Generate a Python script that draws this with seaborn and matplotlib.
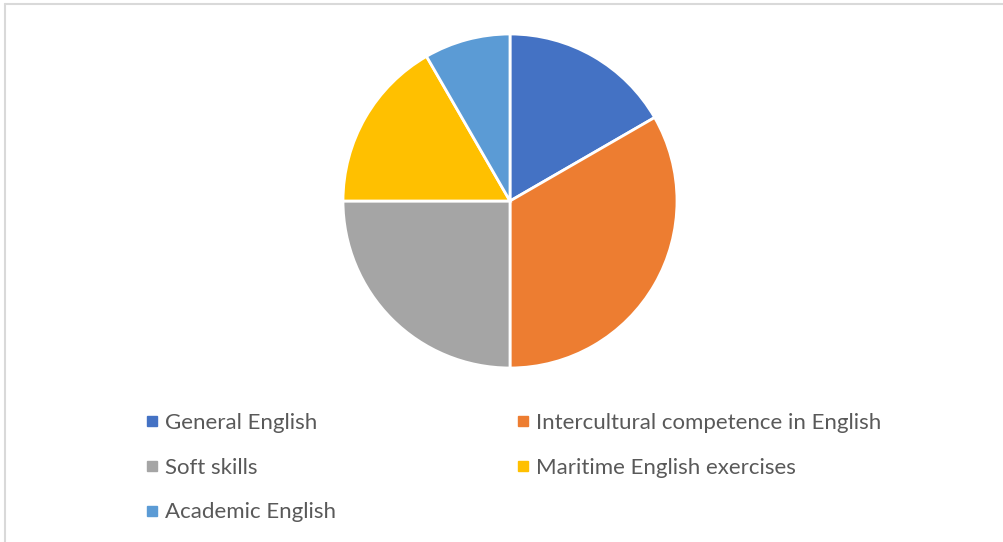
import matplotlib
matplotlib.use("Agg")
import matplotlib.pyplot as plt
from matplotlib.lines import Line2D
import seaborn as sns

# Dados do gráfico
categorias = ["General English", "Intercultural competence in English",
              "Soft skills", "Maritime English exercises", "Academic English"]
valores = [2, 4, 3, 2, 1]
cores = ["#4472C4", "#ED7D31", "#A5A5A5", "#FFC000", "#5B9BD5"]

sns.set_theme(style="white")
plt.rcParams["font.family"] = ["Lato", "DejaVu Sans"]

W, H = 1004, 542
fig = plt.figure(figsize=(W / 100, H / 100), dpi=100)

# Borda do gráfico (topo e esquerda)
fig.add_artist(Line2D([5 / W, 5 / W], [0, 1 - 4 / H], color="#D9D9D9", lw=1.5))
fig.add_artist(Line2D([5 / W, 1], [1 - 4 / H, 1 - 4 / H], color="#D9D9D9", lw=1.5))

# Pizza
cx, cy, r = 510, 201, 167
ax = fig.add_axes([(cx - r) / W, (H - cy - r) / H, 2 * r / W, 2 * r / H])
ax.pie(valores, colors=cores, startangle=90, counterclock=False,
       wedgeprops=dict(edgecolor="white", linewidth=2))
ax.set_xlim(-1, 1)
ax.set_ylim(-1, 1)
ax.set_aspect("equal")
ax.axis("off")

# Legenda em duas colunas (preenchida por coluna)
ordem = [0, 2, 4, 1, 3]
handles = [Line2D([], [], marker="s", linestyle="none", markersize=6.5,
                  color=cores[i]) for i in ordem]
labels = [categorias[i] for i in ordem]
leg = fig.legend(handles, labels, ncol=2, frameon=False,
                 loc="upper left", bbox_to_anchor=(134 / W, 1 - 402 / H),
                 fontsize=16, handlelength=0.6, handletextpad=0.3,
                 columnspacing=8.1, labelspacing=1.11, borderpad=0)
for t in leg.get_texts():
    t.set_color("#595959")

fig.savefig("out.png", dpi=100)
plt.close()
